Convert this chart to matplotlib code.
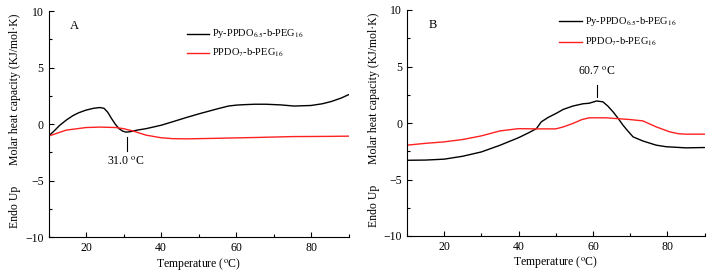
import matplotlib
matplotlib.use("Agg")
import matplotlib.pyplot as plt
from matplotlib.ticker import MultipleLocator

plt.rcParams['font.family'] = ['Liberation Serif', 'DejaVu Serif']
plt.rcParams['mathtext.fontset'] = 'stix'

# Panel A
a_black_x = [10, 11.5, 13, 14.7, 16.5, 18, 20, 22, 23.7, 24.8, 25.8, 26.8, 27.8, 28.8, 29.8, 30.6, 31.5, 32.5, 33.6, 36, 40, 43, 46.9, 50, 55, 58, 60, 62, 65, 68, 72, 75.5, 80, 83, 85.4, 88, 90]
a_black_y = [-1.06, -0.6, -0.1, 0.35, 0.75, 1.0, 1.24, 1.4, 1.47, 1.4, 1.05, 0.5, 0.0, -0.4, -0.62, -0.7, -0.68, -0.62, -0.53, -0.4, -0.1, 0.2, 0.6, 0.9, 1.35, 1.6, 1.68, 1.72, 1.76, 1.76, 1.7, 1.6, 1.65, 1.8, 2.0, 2.3, 2.6]
a_red_x = [10, 14.7, 20, 23.7, 28, 30, 32.5, 36, 40, 43, 46.9, 55, 65, 75, 85, 90]
a_red_y = [-1.06, -0.53, -0.3, -0.26, -0.3, -0.4, -0.6, -0.97, -1.2, -1.28, -1.3, -1.25, -1.18, -1.1, -1.08, -1.06]

# Panel B
b_black_x = [10, 15, 20, 25, 30, 35, 40, 42.5, 44.8, 46.1, 48, 50.1, 52, 54.6, 57.3, 59, 61, 62.7, 64, 65.4, 66.8, 68.1, 69.5, 70.8, 73.5, 77, 79.7, 85, 90]
b_black_y = [-3.3, -3.28, -3.2, -2.94, -2.56, -1.97, -1.3, -0.9, -0.5, 0.1, 0.5, 0.85, 1.2, 1.5, 1.7, 1.75, 1.95, 1.87, 1.5, 0.99, 0.4, -0.2, -0.75, -1.23, -1.6, -1.96, -2.1, -2.2, -2.17]
b_red_x = [10, 15, 20, 25, 30, 35, 40, 44.8, 50, 52, 54.6, 57, 59, 63.5, 66, 69.8, 73.4, 77, 80.6, 83, 85, 90]
b_red_y = [-1.96, -1.8, -1.67, -1.46, -1.14, -0.7, -0.5, -0.52, -0.52, -0.35, -0.04, 0.3, 0.46, 0.46, 0.4, 0.31, 0.19, -0.34, -0.78, -0.95, -0.99, -0.99]

xticks = [20, 40, 60, 80]
yticks = [-10, -5, 0, 5, 10]
series_labels = [r'Py-PPDO$_{6.5}$-b-PEG$_{16}$', r'PPDO$_7$-b-PEG$_{16}$']

fig = plt.figure(figsize=(7.12, 2.77), dpi=100)
W, H = 712, 277
axA = fig.add_axes([48.5 / W, 1 - 237.3 / H, 300 / W, 226.3 / H])
axB = fig.add_axes([407 / W, 1 - 236 / H, 297.5 / W, 226 / H])

fs = 8.5

def style(ax):
    ax.set_xlim(10, 90)
    ax.set_ylim(-10, 10)
    ax.set_xticks(xticks)
    ax.set_yticks(yticks)
    ax.xaxis.set_minor_locator(MultipleLocator(10))
    ax.yaxis.set_minor_locator(MultipleLocator(2.5))
    ax.spines['top'].set_visible(False)
    ax.spines['right'].set_visible(False)
    ax.tick_params(which='both', direction='in', labelsize=fs, width=0.8)
    ax.tick_params(which='major', length=3.5)
    ax.tick_params(which='minor', length=2)
    for sp in ax.spines.values():
        sp.set_linewidth(0.8)
    ax.set_xlabel('Temperature ($^{\\rm o}$C)', fontsize=fs, labelpad=1)
    ax.text(-0.112, 0.655, 'Molar heat capacity (KJ/mol·K)', transform=ax.transAxes,
            rotation=90, ha='center', va='center', fontsize=fs)
    ax.text(-0.112, 0.133, 'Endo Up', transform=ax.transAxes,
            rotation=90, ha='center', va='center', fontsize=fs)

# Panel A
axA.plot(a_black_x, a_black_y, color='black', lw=1.0)
axA.plot(a_red_x, a_red_y, color='#ff2020', lw=1.0)
style(axA)
axA.text(17, 8.65, 'A', fontsize=fs + 0.5, ha='center', va='center')
axA.plot([31, 31], [-1.15, -2.4], color='black', lw=0.8)
axA.text(30.5, -3.3, '31.0 $^{\\rm o}$C', fontsize=fs, ha='center', va='center')
axA.plot([46.9, 52.7], [8.0, 8.0], color='black', lw=1.0)
axA.plot([46.9, 52.7], [6.3, 6.3], color='#ff2020', lw=1.0)
axA.text(53.6, 8.0, series_labels[0], fontsize=fs - 1, va='center')
axA.text(53.6, 6.3, series_labels[1], fontsize=fs - 1, va='center')

# Panel B
axB.plot(b_black_x, b_black_y, color='black', lw=1.0)
axB.plot(b_red_x, b_red_y, color='#ff2020', lw=1.0)
style(axB)
axB.text(17, 8.7, 'B', fontsize=fs + 0.5, ha='center', va='center')
axB.plot([61, 61], [2.3, 3.4], color='black', lw=0.8)
axB.text(61, 4.55, '60.7 $^{\\rm o}$C', fontsize=fs, ha='center', va='center')
axB.plot([51, 57], [9.0, 9.0], color='black', lw=1.0)
axB.plot([51, 57], [7.2, 7.2], color='#ff2020', lw=1.0)
axB.text(57.9, 9.0, series_labels[0], fontsize=fs - 1, va='center')
axB.text(57.9, 7.2, series_labels[1], fontsize=fs - 1, va='center')

fig.savefig('out.png', dpi=100)
